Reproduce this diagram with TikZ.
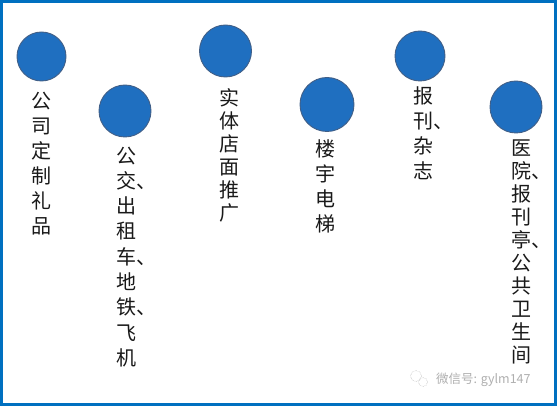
\documentclass[tikz,border=0pt]{standalone}
\usepackage{fontspec}
\newfontfamily\cjk{Noto Sans CJK SC}
\definecolor{frameblue}{RGB}{0,112,192}
\definecolor{dotblue}{RGB}{31,111,192}
\definecolor{dotedge}{RGB}{65,95,135}
\definecolor{wmgray}{RGB}{175,175,175}
\newcommand{\pd}{\rlap{、}}
\tikzset{
  dot/.style={circle, fill=dotblue, draw=dotedge, line width=0.9pt, inner sep=0pt, minimum size=#1},
  col/.style={anchor=north, inner sep=0pt, align=center, font=\cjk\fontsize{20}{#1}\selectfont, text=black!90},
}
\begin{document}
\begin{tikzpicture}[x=1pt,y=-1pt]
\useasboundingbox (0,0) rectangle (558,406);
\draw[frameblue, line width=2.6pt] (1.3,1.3) rectangle (555.5,404.6);

\node[dot=49pt] (c1) at (41.5,56.5) {};
\node[dot=52pt] (c2) at (125,111) {};
\node[dot=52pt] (c3) at (225.5,51) {};
\node[dot=54pt] (c4) at (327,104.5) {};
\node[dot=50pt] (c5) at (420,56) {};
\node[dot=52pt] (c6) at (516,107) {};

\node[col=25] (t1) at (41,91.5) {公\\司\\定\\制\\礼\\品};
\node[col=25.3] (t2) at (126.5,146.5) {公\\交\pd\\出\\租\\车\pd\\地\\铁\pd\\飞\\机};
\node[col=23] (t3) at (229,88.5) {实\\体\\店\\面\\推\\广};
\node[col=25] (t4) at (325,139.5) {楼\\宇\\电\\梯};
\node[col=24.7] (t5) at (423,87) {报\\刊\pd\\杂\\志};
\node[col=23] (t6) at (521,139.5) {医\\院\pd\\报\\刊\\亭\pd\\公\\共\\卫\\生\\间};

% watermark
\draw[wmgray, line width=0.5pt, densely dotted] (416,376) circle (5.5pt);
\draw[wmgray, line width=0.5pt, densely dotted] (423,382) circle (4.5pt);
\node[anchor=west, inner sep=0pt, font=\cjk\fontsize{12.5}{14}\selectfont, text=wmgray] (wm) at (436,380) {微信号: gylm147};
\end{tikzpicture}
\end{document}
